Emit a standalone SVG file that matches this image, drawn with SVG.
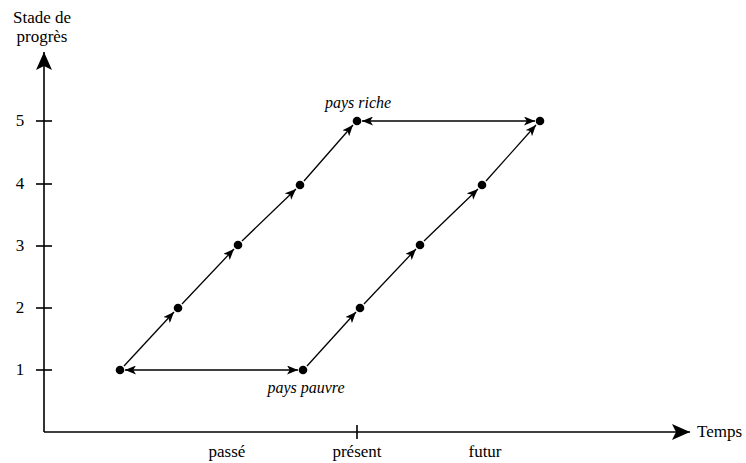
<svg xmlns="http://www.w3.org/2000/svg" width="746" height="463" viewBox="0 0 746 463">
<style>
text{font-family:"Liberation Serif","DejaVu Serif",serif;font-size:17px;fill:#000}
.it{font-style:italic;font-size:16px}
.ax{stroke:#000;stroke-width:1.6;fill:none}
.c{stroke:#000;stroke-width:1.3;fill:none}
.dot{fill:#000}
</style>
<defs>
<marker id="ah" viewBox="0 0 11 9" refX="11" refY="4.5" markerWidth="11" markerHeight="9" markerUnits="userSpaceOnUse" orient="auto-start-reverse">
<path d="M0,0 L11,4.5 L0,9 L2.8,4.5 Z" fill="#000"/>
</marker>
<marker id="big" viewBox="0 0 18 16" refX="18" refY="8" markerWidth="18" markerHeight="16" markerUnits="userSpaceOnUse" orient="auto">
<path d="M0,0 L18,8 L0,16 L4,8 Z" fill="#000"/>
</marker>
</defs>
<g id="axes">
<line class="ax" x1="44" y1="432" x2="44" y2="52" marker-end="url(#big)"/>
<line class="ax" x1="44" y1="432" x2="690" y2="432" marker-end="url(#big)"/>
<line class="ax" x1="36" y1="121" x2="52" y2="121"/>
<line class="ax" x1="36" y1="184" x2="52" y2="184"/>
<line class="ax" x1="36" y1="246" x2="52" y2="246"/>
<line class="ax" x1="36" y1="308" x2="52" y2="308"/>
<line class="ax" x1="36" y1="370" x2="52" y2="370"/>
<line class="ax" x1="357" y1="425" x2="357" y2="439"/>
<text x="42" y="23" text-anchor="middle">Stade de</text>
<text x="42" y="42" text-anchor="middle">progrès</text>
<text x="20" y="126" text-anchor="middle">5</text>
<text x="20" y="189" text-anchor="middle">4</text>
<text x="20" y="251" text-anchor="middle">3</text>
<text x="20" y="313" text-anchor="middle">2</text>
<text x="20" y="375" text-anchor="middle">1</text>
<text x="697" y="437">Temps</text>
<text x="227" y="457" text-anchor="middle">passé</text>
<text x="357" y="457" text-anchor="middle">présent</text>
<text x="485" y="457" text-anchor="middle">futur</text>
</g>
<g id="connectors">
<line class="c" x1="124" y1="366" x2="174" y2="312" marker-end="url(#ah)"/>
<line class="c" x1="182" y1="304" x2="234" y2="249" marker-end="url(#ah)"/>
<line class="c" x1="242" y1="241" x2="296" y2="189" marker-end="url(#ah)"/>
<line class="c" x1="304" y1="181" x2="353" y2="125" marker-end="url(#ah)"/>
<line class="c" x1="307" y1="366" x2="356" y2="312" marker-end="url(#ah)"/>
<line class="c" x1="364" y1="304" x2="416" y2="249" marker-end="url(#ah)"/>
<line class="c" x1="424" y1="241" x2="478" y2="189" marker-end="url(#ah)"/>
<line class="c" x1="486" y1="181" x2="536" y2="125" marker-end="url(#ah)"/>
<line class="c" x1="125" y1="370" x2="298" y2="370" marker-start="url(#ah)" marker-end="url(#ah)"/>
<line class="c" x1="362" y1="121" x2="535" y2="121" marker-start="url(#ah)" marker-end="url(#ah)"/>
</g>
<g id="left-chain">
<circle class="dot" cx="120" cy="370" r="4.3"/>
<circle class="dot" cx="178" cy="308" r="4.3"/>
<circle class="dot" cx="238" cy="245" r="4.3"/>
<circle class="dot" cx="300" cy="185" r="4.3"/>
<circle class="dot" cx="357" cy="121" r="4.3"/>
</g>
<g id="right-chain">
<circle class="dot" cx="303" cy="370" r="4.3"/>
<circle class="dot" cx="360" cy="308" r="4.3"/>
<circle class="dot" cx="420" cy="245" r="4.3"/>
<circle class="dot" cx="482" cy="185" r="4.3"/>
<circle class="dot" cx="540" cy="121" r="4.3"/>
</g>
<g id="labels">
<text class="it" x="358" y="108" text-anchor="middle">pays riche</text>
<text class="it" x="306" y="393" text-anchor="middle">pays pauvre</text>
</g>
</svg>
